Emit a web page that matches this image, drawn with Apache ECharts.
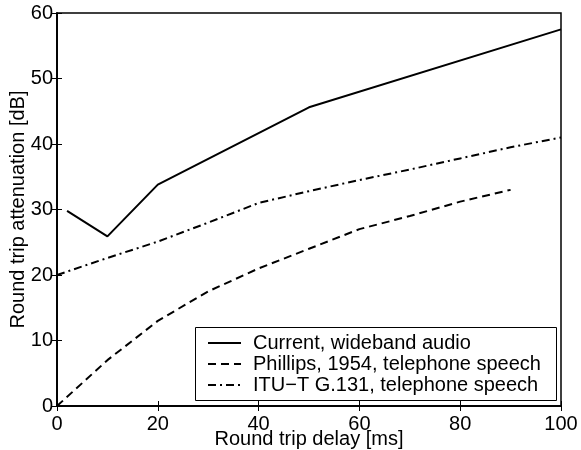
<!DOCTYPE html>
<html>
<head>
<meta charset="utf-8">
<script src="https://cdn.jsdelivr.net/npm/echarts@6/dist/echarts.min.js"></script>
<style>html,body{margin:0;padding:0;background:#fff}#c{width:581px;height:450px}</style>
</head>
<body>
<div id="c"></div>
<script>
const seriesNames = ['Current, wideband audio', 'Phillips, 1954, telephone speech', 'ITU\u2212T G.131, telephone speech'];
const currentX = [2, 10, 20, 50, 100];
const currentY = [29.8, 25.9, 33.8, 45.6, 57.5];
const phillipsX = [0, 10, 20, 30, 40, 50, 60, 70, 80, 90];
const phillipsY = [0, 7, 13, 17.5, 21, 24, 27, 29, 31.2, 33];
const ituX = [0, 10, 20, 30, 40, 50, 60, 70, 80, 90, 100];
const ituY = [20, 22.6, 25.1, 28, 31, 32.8, 34.5, 36.1, 37.8, 39.5, 41];
const xTicks = [0, 20, 40, 60, 80, 100];
const yTicks = [0, 10, 20, 30, 40, 50, 60];

const zip = (xs, ys) => xs.map((x, i) => [x, ys[i]]);
const FONT = 'Liberation Sans';
const FS = 20;
const chart = echarts.init(document.getElementById('c'), null, {renderer: 'canvas'});

const baseAxis = (type) => ({
  type: 'value',
  min: 0,
  max: type === 'x' ? 100 : 60,
  interval: type === 'x' ? 20 : 10,
  splitLine: {show: false},
  axisLine: {show: true, lineStyle: {color: '#000', width: 1.5}},
  axisTick: {show: true, inside: true, length: 5, lineStyle: {color: '#000', width: 1}},
});

chart.setOption({
  animation: false,
  backgroundColor: '#fff',
  grid: {left: 57, right: 20, top: 13, bottom: 44, show: true, borderColor: '#000', borderWidth: 1.5,
         containLabel: false, outerBoundsMode: 'none'},
  xAxis: [
    Object.assign(baseAxis('x'), {
      position: 'bottom',
      name: 'Round trip delay [ms]', nameLocation: 'middle', nameGap: 23, nameMoveOverlap: false,
      nameTextStyle: {fontFamily: FONT, fontSize: FS, color: '#000'},
      axisLabel: {fontFamily: FONT, fontSize: FS, color: '#000', margin: 8,
        formatter: v => xTicks.includes(v) ? String(v) : ''}
    }),
    Object.assign(baseAxis('x'), {position: 'top', axisLabel: {show: false}})
  ],
  yAxis: [
    Object.assign(baseAxis('y'), {
      position: 'left',
      name: 'Round trip attenuation [dB]', nameLocation: 'middle', nameGap: 29, nameMoveOverlap: false,
      nameTextStyle: {fontFamily: FONT, fontSize: FS, color: '#000'},
      axisLabel: {fontFamily: FONT, fontSize: FS, color: '#000', margin: 4,
        formatter: v => yTicks.includes(v) ? String(v) : ''}
    }),
    Object.assign(baseAxis('y'), {position: 'right', axisLabel: {show: false}})
  ],
  legend: {
    orient: 'vertical', left: 207, top: 333, itemGap: 1, itemWidth: 33, itemHeight: 14,
    padding: 0, selectedMode: false,
    itemStyle: {opacity: 0},
    textStyle: {fontFamily: FONT, fontSize: FS, color: '#000', padding: [0, 0, 0, 7]},
    data: seriesNames
  },
  graphic: [{
    type: 'rect', left: 195, top: 327, z: 1,
    shape: {width: 361, height: 73},
    style: {fill: '#fff', stroke: '#000', lineWidth: 1}
  }],
  series: [
    {name: seriesNames[0], type: 'line', data: zip(currentX, currentY), showSymbol: false, symbol: 'none',
     lineStyle: {color: '#000', width: 2, type: 'solid'}, itemStyle: {color: '#000'}, z: 2},
    {name: seriesNames[1], type: 'line', data: zip(phillipsX, phillipsY), showSymbol: false, symbol: 'none',
     lineStyle: {color: '#000', width: 2, type: [8, 5]}, itemStyle: {color: '#000'}, z: 2},
    {name: seriesNames[2], type: 'line', data: zip(ituX, ituY), showSymbol: false, symbol: 'none',
     lineStyle: {color: '#000', width: 2, type: [8, 4, 2, 4]}, itemStyle: {color: '#000'}, z: 2}
  ]
});
</script>
</body>
</html>
